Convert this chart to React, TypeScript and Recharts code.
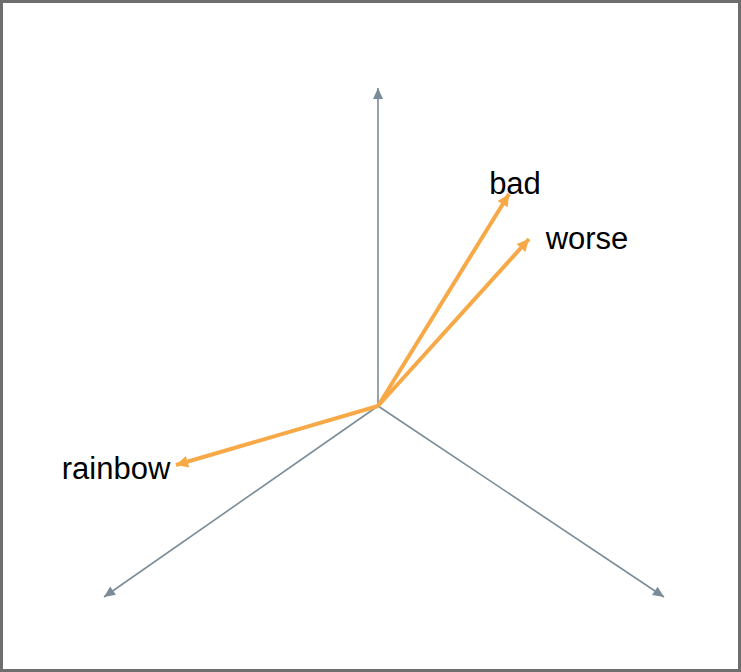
import React from "react";
import { ScatterChart, XAxis, YAxis, Scatter } from "recharts";

const origin = { x: 378, y: 406 };
const axisEnds = [
  { name: "up", x: 378, y: 88 },
  { name: "left", x: 104, y: 597 },
  { name: "right", x: 664, y: 597 },
];
const vectors = [
  { name: "bad", x: 509, y: 194 },
  { name: "worse", x: 529, y: 239 },
  { name: "rainbow", x: 176, y: 465 },
];
const labels = [
  { text: "bad", x: 515, y: 183 },
  { text: "worse", x: 587, y: 238 },
  { text: "rainbow", x: 116, y: 468 },
];

const GRAY = "#7b8c98";
const ORANGE = "#f7a947";

// arrowhead drawn at the end point; the chart scale is 1:1 so data direction = pixel direction
const head = (color: string, size: number, half: number) => (props: any) => {
  const { cx, cy, payload } = props;
  if (!payload || !payload.end) return <g />;
  const dx = payload.x - origin.x;
  const dy = payload.y - origin.y;
  const len = Math.sqrt(dx * dx + dy * dy) || 1;
  const ux = dx / len;
  const uy = dy / len;
  const bx = cx - ux * size;
  const by = cy - uy * size;
  const px = -uy * half;
  const py = ux * half;
  return <polygon points={`${cx},${cy} ${bx + px},${by + py} ${bx - px},${by - py}`} fill={color} />;
};

const labelShape = (props: any) => (
  <text
    x={props.cx}
    y={props.cy}
    textAnchor="middle"
    dominantBaseline="central"
    fontFamily="Liberation Sans, Arial, sans-serif"
    fontSize={31}
    fill="#000"
  >
    {props.payload.text}
  </text>
);

export default function App() {
  return (
    <div
      style={{
        position: "absolute",
        left: 0,
        top: 0,
        width: 741,
        height: 672,
        boxSizing: "border-box",
        border: "3px solid #6e6e6e",
        background: "#fff",
      }}
    >
      <div style={{ position: "absolute", left: -3, top: -3 }}>
        <ScatterChart width={741} height={672} margin={{ top: 0, right: 0, bottom: 0, left: 0 }}>
          <XAxis type="number" dataKey="x" domain={[0, 741]} hide />
          <YAxis type="number" dataKey="y" domain={[0, 672]} reversed hide />
          {axisEnds.map((a) => (
            <Scatter
              key={a.name}
              data={[origin, { x: a.x, y: a.y, end: true }]}
              line={{ stroke: GRAY, strokeWidth: 1.6 }}
              shape={head(GRAY, 11, 5)}
              isAnimationActive={false}
            />
          ))}
          {vectors.map((v) => (
            <Scatter
              key={v.name}
              data={[origin, { x: v.x, y: v.y, end: true }]}
              line={{ stroke: ORANGE, strokeWidth: 4 }}
              shape={head(ORANGE, 12, 6)}
              isAnimationActive={false}
            />
          ))}
          <Scatter data={labels} shape={labelShape} isAnimationActive={false} />
        </ScatterChart>
      </div>
    </div>
  );
}
